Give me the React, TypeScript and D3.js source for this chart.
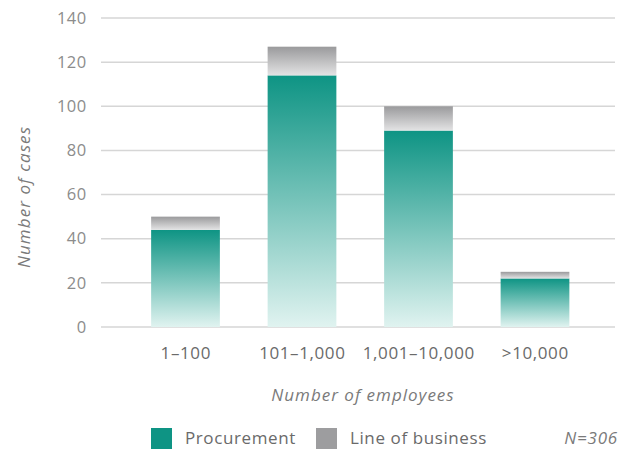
import React from "react";
import * as d3 from "d3";

const categories = ["1–100", "101–1,000", "1,001–10,000", ">10,000"];
const procurement = [44, 114, 89, 22];
const lineOfBusiness = [6, 13, 11, 3];
const yTicks = [0, 20, 40, 60, 80, 100, 120, 140];
const seriesNames = ["Procurement", "Line of business"];
const seriesColors = ["#0e9484", "#9d9d9f"];

const W = 630;
const H = 450;
const FONT = "'Open Sans', 'Noto Sans', sans-serif";

export default function App() {
  const x = d3
    .scaleBand<string>()
    .domain(categories)
    .range([127.25, 593.25])
    .paddingInner(0.41)
    .paddingOuter(0.205);
  const y = d3.scaleLinear().domain([0, 140]).range([327, 18]);

  const rows = categories.map((c, i) => ({
    cat: c,
    p: procurement[i],
    l: lineOfBusiness[i],
  }));

  return (
    <svg
      width={W}
      height={H}
      style={{ position: "absolute", left: 0, top: 0, fontFamily: FONT }}
    >
      <defs>
        <linearGradient id="gTeal" x1="0" y1="0" x2="0" y2="1">
          <stop offset="0%" stopColor="#0e9484" />
          <stop offset="100%" stopColor="#e0f3f0" />
        </linearGradient>
        <linearGradient id="gGrey" x1="0" y1="0" x2="0" y2="1">
          <stop offset="0%" stopColor="#9a9a9c" />
          <stop offset="100%" stopColor="#e3e3e4" />
        </linearGradient>
      </defs>
      <rect x={0} y={0} width={W} height={H} fill="#ffffff" />
      {yTicks.map((t) => (
        <g key={t}>
          <line
            x1={101}
            x2={615}
            y1={y(t)}
            y2={y(t)}
            stroke="#d6d6d6"
            strokeWidth={1.5}
          />
          <text
            x={86.5}
            y={y(t)}
            dy="0.35em"
            textAnchor="end"
            fontSize={16.5}
            letterSpacing={0.4}
            fill="#8c8c8c"
          >
            {t}
          </text>
        </g>
      ))}
      {rows.map((r) => (
        <g key={r.cat}>
          <rect
            x={x(r.cat)!}
            width={x.bandwidth()}
            y={y(r.p)}
            height={y(0) - y(r.p)}
            fill="url(#gTeal)"
          />
          <rect
            x={x(r.cat)!}
            width={x.bandwidth()}
            y={y(r.p + r.l)}
            height={y(r.p) - y(r.p + r.l)}
            fill="url(#gGrey)"
          />
          <text
            x={x(r.cat)! + x.bandwidth() / 2 + 0.3}
            y={353}
            dy="0.35em"
            textAnchor="middle"
            fontSize={17}
            letterSpacing={0.6}
            fill="#6a6a6a"
          >
            {r.cat}
          </text>
        </g>
      ))}
      <text
        transform={`translate(24,197) rotate(-90)`}
        textAnchor="middle"
        dy="0.35em"
        fontSize={17}
        letterSpacing={1.1}
        fontStyle="italic"
        fill="#7a7a7a"
      >
        Number of cases
      </text>
      <text
        x={363}
        y={395}
        dy="0.35em"
        textAnchor="middle"
        fontSize={17}
        letterSpacing={1.0}
        fontStyle="italic"
        fill="#7a7a7a"
      >
        Number of employees
      </text>
      {seriesNames.map((n, i) => {
        const lx = i === 0 ? 151 : 316;
        return (
          <g key={n}>
            <rect x={lx} y={428} width={21} height={21} fill={seriesColors[i]} />
            <text
              x={lx + 34}
              y={438.5}
              dy="0.35em"
              fontSize={17}
              letterSpacing={0.6}
              fill="#6a6a6a"
            >
              {n}
            </text>
          </g>
        );
      })}
      <text
        x={618}
        y={438.5}
        dy="0.35em"
        textAnchor="end"
        fontSize={17}
        letterSpacing={0.8}
        fontStyle="italic"
        fill="#7a7a7a"
      >
        N=306
      </text>
    </svg>
  );
}
